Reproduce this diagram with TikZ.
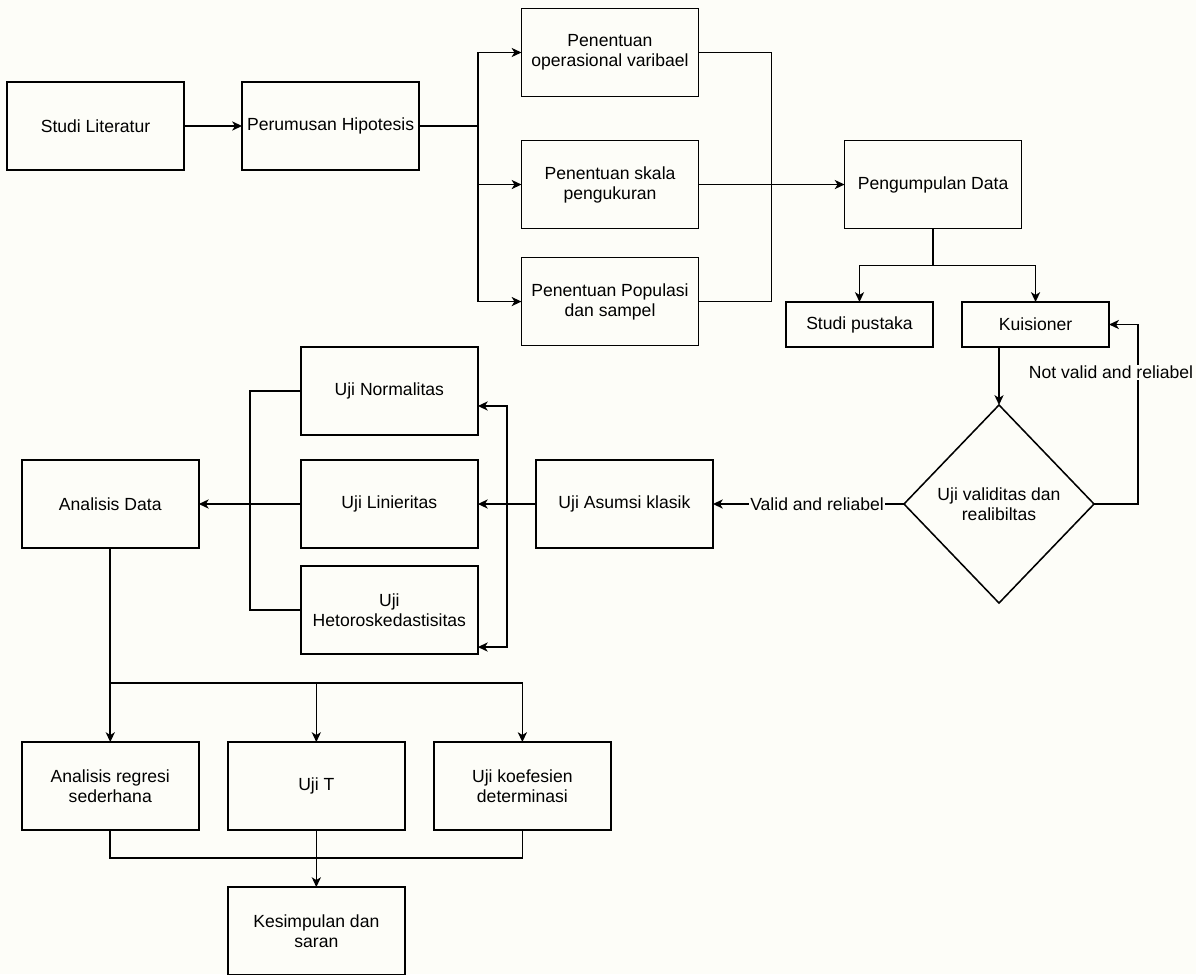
\documentclass[tikz,border=0pt]{standalone}
\usepackage{fontspec}
\setmainfont{Liberation Sans}
\usepackage{tikz}
\usetikzlibrary{shapes.geometric}
\usetikzlibrary{arrows.meta,positioning}
\definecolor{paper}{RGB}{253,253,248}
\tikzstyle{box}=[rectangle, draw, fill=paper, minimum width=4.425cm, minimum height=2.2cm, align=center, inner sep=2pt, outer sep=0pt]
\tikzstyle{small box}=[box, minimum width=3.675cm, minimum height=1.125cm]
\tikzstyle{edge label}=[fill=paper, inner sep=1pt]

\begin{document}
\begin{tikzpicture}[->,>={Stealth[length=7pt,width=6.5pt,inset=2pt]}, x=0.025cm, y=-0.025cm, line width=1.1pt, font=\fontsize{12.5}{14.2}\selectfont]

  \fill[-,paper] (0,0) rectangle (1196,974);
  \useasboundingbox (0,0) rectangle (1196,974);

  \node[box] (1) at (95.5,126) {Studi Literatur};
  \node[box] (2) [right = 1.45cm of 1] {Perumusan Hipotesis};

  \node[box] (3a) at (610,52.5) {Penentuan\\operasional varibael};
  \node[box] (3b) [below = 1.1cm of 3a] {Penentuan skala\\pengukuran};
  \node[box] (3c) [below = 0.725cm of 3b] {Penentuan Populasi\\dan sampel};

  \node[box] (4) [right = 3.65cm of 3b] {Pengumpulan Data};
  \node[small box] (5a) at (859.5,324.5) {Studi pustaka};
  \node[small box] (5b) [right = 0.725cm of 5a] {Kuisioner};

  \node[diamond, draw, fill=paper, minimum width=4.75cm, minimum height=4.95cm, inner sep=0pt, outer sep=0pt,
        label={[align=center]center:Uji validitas dan\\realibiltas}] (6) at (999,504) {};

  \node[box] (7) [left = 4.775cm of 6] {Uji Asumsi klasik};
  \node[box] (8b) [left = 1.45cm of 7] {Uji Linieritas};
  \node[box] (8a) [above = 0.625cm of 8b] {Uji Normalitas};
  \node[box] (8c) [below = 0.45cm of 8b] {Uji\\Hetoroskedastisitas};

  \node[box] (9) [left = 2.55cm of 8b] {Analisis Data};

  \node[box] (10a) [below = 4.85cm of 9] {Analisis regresi\\sederhana};
  \node[box] (10b) [right = 0.725cm of 10a] {Uji T};
  \node[box] (10c) [right = 0.725cm of 10b] {Uji koefesien\\determinasi};
  \node[box] (11) [below = 1.425cm of 10b] {Kesimpulan dan\\saran};

  % bends
  \coordinate[right = 1.475cm of 2.east] (split);
  \coordinate[right = 1.825cm of 3b.east] (merge);
  \coordinate[below = 0.925cm of 4.south] (fork);
  \coordinate[right = 1.1cm of 6.east] (back);
  \coordinate[left = 0.725cm of 7.west] (bus);
  \coordinate[left = 1.275cm of 8b.west] (join);
  \coordinate[below = 3.375cm of 9.south] (fork2);
  \coordinate[below = 0.7cm of 10a.south] (join2);

  \path[]
  (1) edge node {} (2)
  (3b) edge node {} (4)
  (9) edge node {} (10a)
  (10b) edge node {} (11);

  \draw[-] (2) -- (split);
  \draw (split) |- (3a);
  \draw (split) |- (3b);
  \draw (split) |- (3c);

  \draw[-] (3a) -| (merge);
  \draw[-] (3c) -| (merge);

  \draw[-] (4) -- (fork);
  \draw (fork) -| (5a);
  \draw (fork) -| (5b);

  \draw (6.north |- 5b.south) -- (6.north);
  \draw (6.east) -- (back) |- node[edge label, pos=0.366, xshift=-0.675cm] {Not valid and reliabel} (5b.east);
  \draw (6.west) -- node[edge label, pos=0.455] {Valid and reliabel} (7.east);

  \draw[-, line width=1.6pt] (7) -- (bus);
  \draw (bus) |- ([yshift=-0.375cm]8a.east);
  \draw (bus) -- (8b);
  \draw (bus) |- ([yshift=-0.925cm]8c.east);

  \draw[-] (8a) -| (join);
  \draw[-] (8c) -| (join);
  \draw[line width=1.6pt] (8b) -- (9);

  \draw (fork2) -| (10b);
  \draw (fork2) -| (10c);
  \draw[-] (10a) -- (join2) -| (10c);

\end{tikzpicture}
\end{document}
